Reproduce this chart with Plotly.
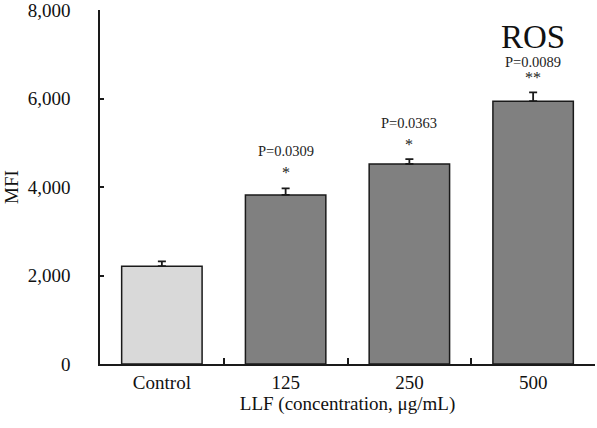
import plotly.graph_objects as go

categories = ["Control", "125", "250", "500"]
values = [2210, 3820, 4520, 5940]
errors = [110, 150, 110, 200]
colors = ["#d9d9d9", "#808080", "#808080", "#808080"]
p_labels = ["", "P=0.0309", "P=0.0363", "P=0.0089"]
stars = ["", "*", "*", "**"]

font = "Liberation Serif, Times New Roman, serif"

fig = go.Figure()
fig.add_trace(go.Bar(
    x=categories, y=values,
    marker=dict(color=colors, line=dict(color="#1a1a1a", width=1.5)),
    error_y=dict(type="data", symmetric=False, array=errors, arrayminus=[0]*4,
                 color="#1a1a1a", thickness=1.8, width=4),
    width=0.65,
))

p_y = [None, 4810, 5450, 6830]
s_y = [None, 4330, 4960, 6480]
for i, c in enumerate(categories):
    if p_labels[i]:
        fig.add_annotation(x=i, y=p_y[i], text=p_labels[i], showarrow=False,
                           font=dict(family=font, size=14.5, color="#222"))
        fig.add_annotation(x=i, y=s_y[i], text=stars[i], showarrow=False,
                           font=dict(family=font, size=16, color="#222"))

fig.add_annotation(x=3, y=7390, text="ROS", showarrow=False,
                   font=dict(family=font, size=33, color="#111"))

fig.update_layout(
    width=597, height=428,
    margin=dict(l=100, r=2, t=10, b=64),
    plot_bgcolor="white", paper_bgcolor="white",
    showlegend=False,
    font=dict(family=font, color="#111"),
    xaxis=dict(
        type="category", range=[-0.5, 3.5], automargin=False,
        showline=True, linecolor="#1a1a1a", linewidth=1.5,
        ticks="inside", tickson="boundaries", ticklen=6, tickcolor="#1a1a1a", tickwidth=1.5,
        tickfont=dict(family=font, size=19, color="#111"),
        title=dict(text="LLF (concentration, μg/mL)", font=dict(family=font, size=19, color="#111"), standoff=4),
        showgrid=False,
    ),
    yaxis=dict(
        range=[0, 8000], tickvals=[0, 2000, 4000, 6000, 8000], automargin=False,
        ticktext=["0", "2,000", "4,000", "6,000", "8,000"],
        ticklabeloverflow="allow",
        showline=True, linecolor="#1a1a1a", linewidth=1.5,
        ticks="inside", ticklen=4, tickcolor="#1a1a1a", tickwidth=1.5,
        tickfont=dict(family=font, size=19, color="#111"),
        ticklabelstandoff=24,
        title=dict(text="MFI", font=dict(family=font, size=19, color="#111"), standoff=4),
        showgrid=False, zeroline=False,
    ),
)

fig.write_html("out.html", config={"displayModeBar": False},
               post_script="document.body.style.margin='0';")
